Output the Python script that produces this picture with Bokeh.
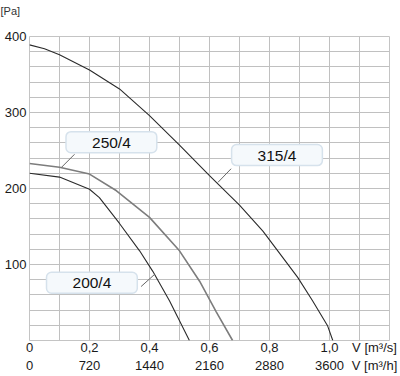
from bokeh.plotting import figure
from bokeh.models import LinearAxis, FixedTicker, Label, Range1d
from bokeh.embed import file_html
from bokeh.resources import INLINE

# ---- data ----
q_200 = [0.0, 0.1, 0.2, 0.233, 0.3, 0.367, 0.411, 0.467, 0.533]
p_200 = [220, 215, 199, 188, 154, 118, 91, 52, 0]

q_250 = [0.0, 0.1, 0.2, 0.29, 0.4, 0.5, 0.567, 0.622, 0.677]
p_250 = [233, 228, 219, 197, 162, 118, 78, 38, 0]

q_315 = [0.0, 0.05, 0.1, 0.2, 0.3, 0.4, 0.5, 0.6, 0.7, 0.778, 0.894, 0.944, 0.994, 1.011]
p_315 = [389, 384, 376, 356, 331, 296, 257, 217, 178, 144, 83, 52, 19, 0]

x_ticks = [0.0, 0.2, 0.4, 0.6, 0.8, 1.0]
x_labels_s = ["0", "0,2", "0,4", "0,6", "0,8", "1,0"]
x_labels_h = ["0", "720", "1440", "2160", "2880", "3600"]
unit_s = "V [m\u00b3/s]"
unit_h = "V [m\u00b3/h]"
unit_pos = 1.15
y_ticks = [100, 200, 300, 400]
y_labels = ["100", "200", "300", "400"]
y_unit = "[Pa]"

names = ["200/4", "250/4", "315/4"]
label_q = [0.208, 0.273, 0.825]
label_p = [76, 261, 244]
lead_q0 = [0.372, 0.15, 0.672]
lead_p0 = [71, 245, 226]
lead_q1 = [0.417, 0.107, 0.628]
lead_p1 = [87, 228, 208]

FONT = "Liberation Sans"

p = figure(width=398, height=376, x_range=Range1d(0, 1.2), y_range=Range1d(0, 400),
           output_backend="svg", toolbar_location=None,
           min_border_left=29, min_border_right=9, min_border_top=36, min_border_bottom=36,
           title=y_unit + "\n")
p.title.align = "left"
p.title.vertical_align = "bottom"
p.title.offset = -29
p.title.text_font = FONT
p.title.text_font_size = "11px"
p.title.text_font_style = "normal"
p.title.text_color = "#333333"
p.title.text_line_height = 1.6
p.title.standoff = 0

p.outline_line_color = "#c4c4c4"
p.background_fill_color = "white"
p.border_fill_color = "white"

# grid
p.xgrid.ticker = FixedTicker(ticks=[i / 10 for i in range(13)])
p.ygrid.ticker = FixedTicker(ticks=list(range(0, 401, 20)))
p.xgrid.grid_line_color = "#c0c0c0"
p.ygrid.grid_line_color = "#c0c0c0"

# axes
def style_axis(ax):
    ax.axis_line_color = None
    ax.major_tick_line_color = None
    ax.minor_tick_line_color = None
    ax.major_tick_out = 0
    ax.major_tick_in = 0
    ax.minor_tick_out = 0
    ax.minor_tick_in = 0
    ax.axis_label = None
    ax.axis_label_standoff = 0
    ax.major_label_text_font = FONT
    ax.major_label_text_font_size = "13px"
    ax.major_label_text_color = "#1a1a1a"

p.xaxis.ticker = FixedTicker(ticks=x_ticks + [unit_pos])
ov1 = {t: s for t, s in zip(x_ticks, x_labels_s)}
ov1[unit_pos] = unit_s
p.xaxis.major_label_overrides = ov1
style_axis(p.xaxis[0])
p.xaxis.major_label_standoff = -1

ov2 = {t: s for t, s in zip(x_ticks, x_labels_h)}
ov2[unit_pos] = unit_h
ax2 = LinearAxis(ticker=FixedTicker(ticks=x_ticks + [unit_pos]), major_label_overrides=ov2)
style_axis(ax2)
ax2.major_label_standoff = 0
p.add_layout(ax2, "below")

p.yaxis.ticker = FixedTicker(ticks=y_ticks)
p.yaxis.major_label_overrides = {t: s for t, s in zip(y_ticks, y_labels)}
style_axis(p.yaxis[0])
p.yaxis.major_label_standoff = 3

# curves
p.line(q_315, p_315, line_color="#2b2b2b", line_width=1.1)
p.line(q_250, p_250, line_color="#7d7d7d", line_width=1.6)
p.line(q_200, p_200, line_color="#2b2b2b", line_width=1.1)

# leader lines
p.segment(lead_q0, lead_p0, lead_q1, lead_p1, line_color="#666666", line_width=1)

# labels with shadow boxes
for n, q, pp in zip(names, label_q, label_p):
    sh = Label(x=q, y=pp, text=n, text_align="center", text_baseline="middle",
               text_font=FONT, text_font_size="15.5px", text_alpha=0.0,
               x_offset=2, y_offset=-3,
               background_fill_color="#9a9a9a", background_fill_alpha=0.5,
               border_radius=5, padding=(26, 2))
    p.add_layout(sh)
    lb = Label(x=q, y=pp, text=n, text_align="center", text_baseline="middle",
               text_font=FONT, text_font_size="15.5px", text_color="#111111",
               background_fill_color="#f5f9fc", border_line_color="#d6e2ec",
               border_line_width=1.5,
               border_radius=5, padding=(26, 2))
    p.add_layout(lb)

open("out.html", "w").write(file_html(p, INLINE))
